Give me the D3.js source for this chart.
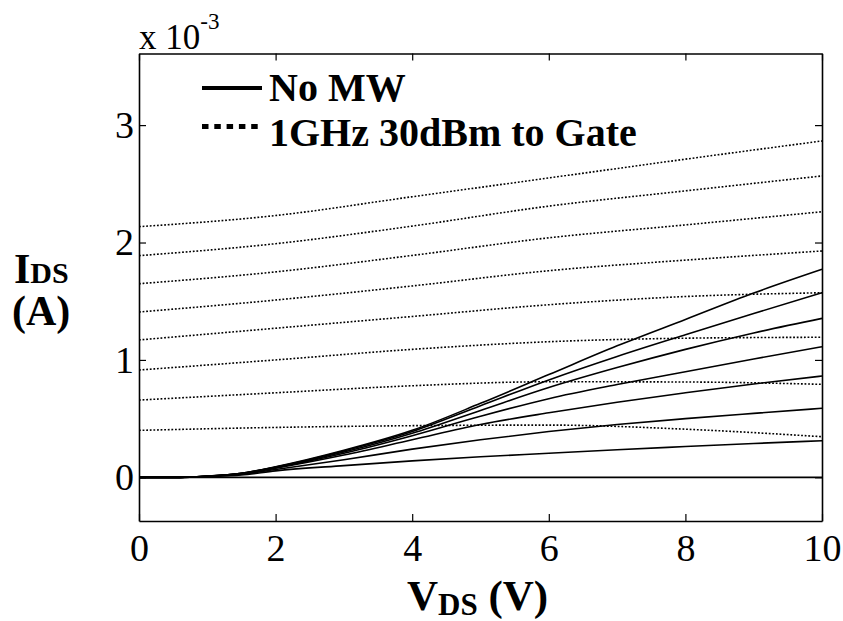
<!DOCTYPE html>
<html>
<head>
<meta charset="utf-8">
<script src="https://cdn.jsdelivr.net/npm/d3@7"></script>
<style>
  body { margin: 0; background: #fff; }
  svg text { font-family: "Liberation Serif", "Times New Roman", serif; fill: #000; }
</style>
</head>
<body>
<svg id="chart" width="843" height="621"></svg>
<script>
// V_DS sample points (V)
var vdsSolid = [0, 0.6, 1, 1.5, 2, 3, 4, 5, 6, 7, 8, 9, 10];
var vdsDotted = [0, 2, 4, 6, 8, 10];

// I_DS in units of 1e-3 A, "No MW" (solid)
var noMW = [
    [0, 0, 0.010, 0.035, 0.090, 0.230, 0.400, 0.630, 0.875, 1.120, 1.345, 1.570, 1.772],
    [0, 0, 0.010, 0.035, 0.088, 0.225, 0.390, 0.610, 0.830, 1.030, 1.215, 1.395, 1.572],
    [0, 0, 0.010, 0.034, 0.085, 0.215, 0.375, 0.570, 0.765, 0.935, 1.090, 1.230, 1.354],
    [0, 0, 0.010, 0.033, 0.082, 0.205, 0.355, 0.520, 0.670, 0.790, 0.900, 1.008, 1.112],
    [0, 0, 0.009, 0.030, 0.078, 0.190, 0.320, 0.450, 0.550, 0.640, 0.720, 0.795, 0.863],
    [0, 0, 0.008, 0.027, 0.066, 0.150, 0.240, 0.320, 0.390, 0.450, 0.500, 0.545, 0.588],
    [0, 0, 0.006, 0.020, 0.055, 0.100, 0.140, 0.175, 0.205, 0.235, 0.262, 0.288, 0.312],
    [0, 0, 0, 0, 0, 0, 0, 0, 0, 0, 0, 0, 0]
];

// I_DS in units of 1e-3 A, "1GHz 30dBm to Gate" (dotted)
var withMW = [
    [2.135, 2.230, 2.390, 2.550, 2.710, 2.865],
    [1.888, 1.990, 2.140, 2.310, 2.440, 2.567],
    [1.649, 1.750, 1.890, 2.040, 2.150, 2.262],
    [1.408, 1.510, 1.630, 1.760, 1.850, 1.928],
    [1.170, 1.270, 1.370, 1.470, 1.540, 1.572],
    [0.914, 1.000, 1.090, 1.155, 1.185, 1.193],
    [0.658, 0.720, 0.780, 0.814, 0.812, 0.792],
    [0.400, 0.425, 0.440, 0.445, 0.410, 0.346]
];

var xTicks = [0, 2, 4, 6, 8, 10];
var yTicks = [0, 1, 2, 3];
var legendLabels = ["No MW", "1GHz 30dBm to Gate"];

var svg = d3.select('#chart');
var box = {left: 139, right: 822, top: 53.5, bottom: 521};

var x = d3.scaleLinear().domain([0, 10]).range([box.left, box.right]);
var y = d3.scaleLinear().domain([-0.372, 3.61]).range([box.bottom, box.top]);

var tickLen = 7;

// axes, MATLAB style box with inward ticks
var xAxisB = d3.axisBottom(x).tickValues(xTicks).tickSizeInner(-tickLen).tickSizeOuter(0).tickPadding(13).tickFormat(d3.format('d'));
var xAxisT = d3.axisTop(x).tickValues(xTicks).tickSizeInner(-tickLen).tickSizeOuter(0).tickFormat('');
var yAxisL = d3.axisLeft(y).tickValues(yTicks).tickSizeInner(-tickLen).tickSizeOuter(0).tickPadding(5).tickFormat(d3.format('d'));
var yAxisR = d3.axisRight(y).tickValues(yTicks).tickSizeInner(-tickLen).tickSizeOuter(0).tickFormat('');

function styleAxis(g){
    g.select('.domain').attr('stroke', '#000').attr('stroke-width', 1.6);
    g.selectAll('.tick line').attr('stroke', '#000').attr('stroke-width', 1.2);
    g.selectAll('.tick text').attr('font-size', 38).attr('font-family', '"Liberation Serif", serif').attr('fill', '#000');
}

// data lines first so the box sits on top
var plot = svg.append('g');

var lineSolid = d3.line()
    .x(function(d, i){ return x(vdsSolid[i]); })
    .y(function(d){ return y(d); })
    .curve(d3.curveMonotoneX);

var lineDotted = d3.line()
    .x(function(d, i){ return x(vdsDotted[i]); })
    .y(function(d){ return y(d); })
    .curve(d3.curveMonotoneX);

plot.selectAll('path.mw').data(withMW).enter().append('path')
    .attr('class', 'mw')
    .attr('d', lineDotted)
    .attr('fill', 'none')
    .attr('stroke', '#000')
    .attr('stroke-width', 1.6)
    .attr('stroke-dasharray', '1.8,1.8');

plot.selectAll('path.nomw').data(noMW).enter().append('path')
    .attr('class', 'nomw')
    .attr('d', lineSolid)
    .attr('fill', 'none')
    .attr('stroke', '#000')
    .attr('stroke-width', 1.6);

svg.append('g').attr('transform', 'translate(0,' + box.bottom + ')').call(xAxisB).call(styleAxis);
svg.append('g').attr('transform', 'translate(0,' + box.top + ')').call(xAxisT).call(styleAxis);
svg.append('g').attr('transform', 'translate(' + box.left + ',0)').call(yAxisL).call(styleAxis);
svg.append('g').attr('transform', 'translate(' + box.right + ',0)').call(yAxisR).call(styleAxis);

// exponent label
var expo = svg.append('text').attr('x', box.left).attr('y', 49).attr('font-size', 35);
expo.append('tspan').text('x 10');
expo.append('tspan').attr('font-size', 23).attr('dy', -20).text('-3');

// legend
var leg = svg.append('g');
leg.append('line').attr('x1', 202).attr('x2', 262).attr('y1', 88).attr('y2', 88)
    .attr('stroke', '#000').attr('stroke-width', 4);
leg.append('line').attr('x1', 202).attr('x2', 262).attr('y1', 126.5).attr('y2', 126.5)
    .attr('stroke', '#000').attr('stroke-width', 5).attr('stroke-dasharray', '6.5,5.8');
leg.selectAll('text').data(legendLabels).enter().append('text')
    .attr('x', 269)
    .attr('y', function(d, i){ return 101 + i * 45; })
    .attr('font-size', 40)
    .attr('font-weight', 'bold')
    .text(function(d){ return d; });

// y label
var yl = svg.append('text').attr('x', 14).attr('y', 283).attr('font-size', 42).attr('font-weight', 'bold');
yl.append('tspan').text('I');
yl.append('tspan').attr('font-size', 30).text('DS');
svg.append('text').attr('x', 12).attr('y', 325).attr('font-size', 42).attr('font-weight', 'bold').text('(A)');

// x label
var xl = svg.append('text').attr('x', 407).attr('y', 610).attr('font-size', 43).attr('font-weight', 'bold');
xl.append('tspan').text('V');
xl.append('tspan').attr('font-size', 31).attr('dy', 5).text('DS');
xl.append('tspan').attr('dy', -5).text(' (V)');
</script>
</body>
</html>
